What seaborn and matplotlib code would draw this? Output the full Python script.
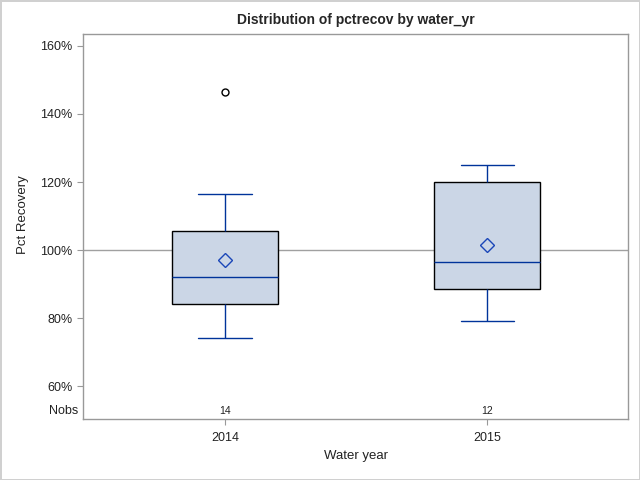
import numpy as np
import pandas as pd
import seaborn as sns
import matplotlib.pyplot as plt
from matplotlib.ticker import FuncFormatter
import matplotlib.transforms as mtransforms

# values (pct recovery)
yr_2014 = [74, 78, 82, 84, 84, 88, 92, 92, 98, 105.5, 105.5, 112, 116.5, 146.5]
yr_2015 = [79, 84, 88.5, 88.5, 92, 96.5, 96.5, 105, 120, 120, 123, 125]
years = ["2014", "2015"]

df = pd.DataFrame({
	"water_yr": ["2014"] * len(yr_2014) + ["2015"] * len(yr_2015),
	"pctrecov": yr_2014 + yr_2015,
})

sns.set_style("white")
plt.rcParams['font.family'] = ['Liberation Sans', 'DejaVu Sans']

fig = plt.figure(figsize=(6.4, 4.8), dpi=100)
fig.patch.set_edgecolor("#d0d0d0")
fig.patch.set_linewidth(2)
ax = fig.add_axes([0.1297, 0.127, 0.8516, 0.802])

blue = "#00339a"
ax.axhline(100, color="#a0a0a0", lw=1, zorder=0)
sns.boxplot(data=df, x="water_yr", y="pctrecov", order=years, ax=ax,
            width=0.405, color="#cbd6e6", linecolor="black", linewidth=1,
            showmeans=True, saturation=1,
            boxprops=dict(facecolor="#cbd6e6", edgecolor="black", zorder=2),
            whiskerprops=dict(color=blue), capprops=dict(color=blue),
            medianprops=dict(color=blue),
            meanprops=dict(marker="D", markerfacecolor="none",
                           markeredgecolor="#1a46b8", markersize=7),
            flierprops=dict(marker="o", markerfacecolor="none",
                            markeredgecolor="black", markersize=5))

ax.set_ylim(50.3, 163.5)
ax.set_xlim(-0.542, 1.538)
ax.set_yticks([60, 80, 100, 120, 140, 160])
ax.yaxis.set_major_formatter(FuncFormatter(lambda v, p: f"{v:.0f}%"))

for s in ax.spines.values():
	s.set_color("#999999")
	s.set_linewidth(1)
ax.tick_params(axis="both", direction="out", length=4, color="#999999",
               labelsize=9, labelcolor="#222222", left=True, bottom=True)
ax.tick_params(axis="x", pad=5)

ax.set_xlabel("Water year", fontsize=9.5, color="#222222", labelpad=5)
ax.set_ylabel("Pct Recovery", fontsize=9.5, color="#222222", labelpad=6)
ax.yaxis.set_label_coords(-0.1, 0.53)
ax.set_title("Distribution of pctrecov by water_yr", fontsize=10,
             fontweight="bold", pad=7)

# Nobs inset row
trans = mtransforms.blended_transform_factory(ax.transData, ax.transAxes)
counts = [len(yr_2014), len(yr_2015)]
for i, n in enumerate(counts):
	ax.text(i, 0.022, str(n), transform=trans, ha="center", va="center",
	        fontsize=7.5, color="#222222")
ax.text(-0.008, 0.022, "Nobs", transform=ax.transAxes, ha="right",
        va="center", fontsize=9, color="#222222")

plt.savefig("out.png", dpi=100)
